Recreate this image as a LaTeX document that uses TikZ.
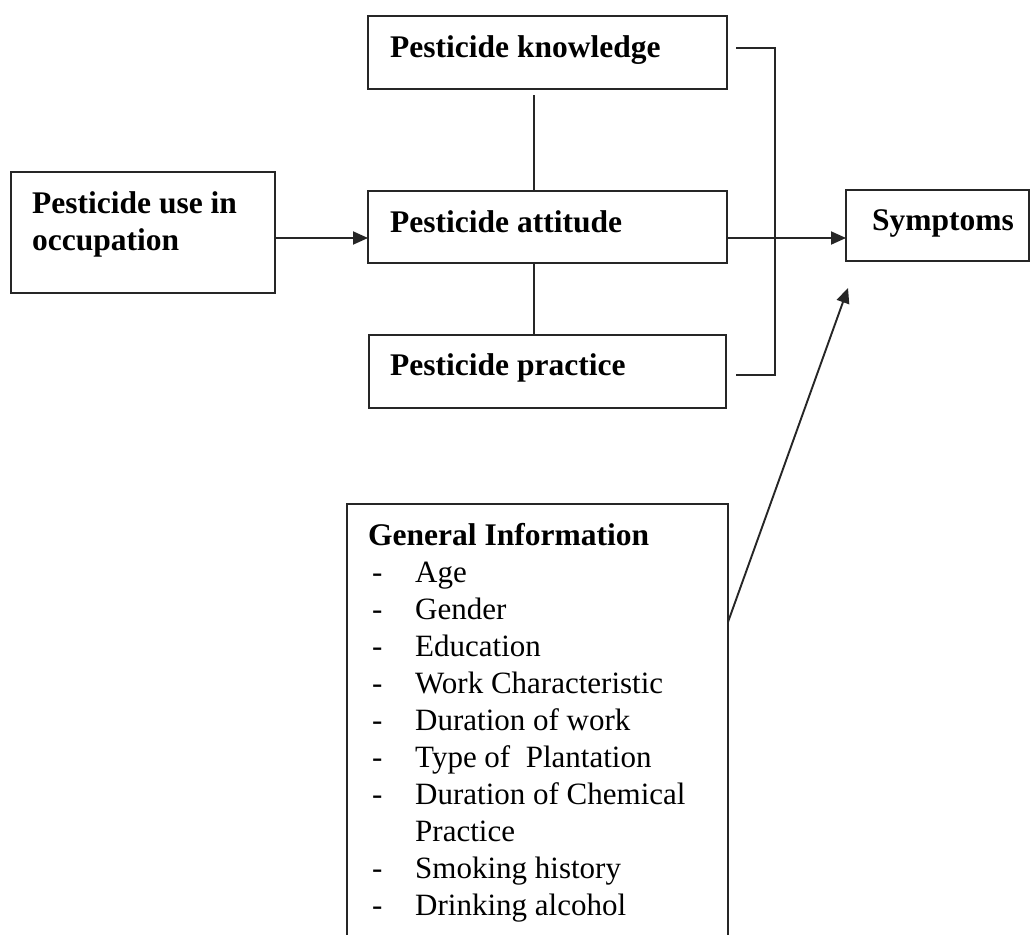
\documentclass[tikz,border=0pt]{standalone}
\usepackage{fontspec}
\setmainfont{Liberation Serif}
\usetikzlibrary{arrows.meta}
\begin{document}
\begin{tikzpicture}[x=1pt,y=-1pt,
  box/.style={draw=black!85, line width=2pt, inner sep=0pt, outer sep=0pt},
  bt/.style={font=\fontsize{31.5}{37}\selectfont\bfseries, inner sep=0pt, anchor=base west, text=black},
  rt/.style={font=\fontsize{31}{37}\selectfont, inner sep=0pt, anchor=base west, text=black},
  ln/.style={draw=black!85, line width=1.9pt},
  arr/.style={ln, -{Triangle[length=15pt,width=13pt]}}]
\useasboundingbox (0,0) rectangle (1032,934);
\clip (0,0) rectangle (1032,934);
\fill[white] (0,0) rectangle (1032,934);
% boxes
\node[box, minimum width=264pt, minimum height=121pt] (use) at (143,232.5) {};
\node[box, minimum width=359pt, minimum height=73pt] (know) at (547.5,52.5) {};
\node[box, minimum width=359pt, minimum height=72pt] (att) at (547.5,227) {};
\node[box, minimum width=357pt, minimum height=73pt] (prac) at (547.5,371.5) {};
\node[box, minimum width=183pt, minimum height=71pt] (sym) at (937.5,225.5) {};
\node[box, minimum width=381pt, minimum height=470pt] (gen) at (537.5,739) {};
% texts
\node[bt] (tuse1) at (32,213) {Pesticide use in};
\node[bt] (tuse2) at (32,250) {occupation};
\node[bt] (tknow) at (390,58) {Pesticide knowledge};
\node[bt] (tatt) at (390,232) {Pesticide attitude};
\node[bt] (tprac) at (390,375) {Pesticide practice};
\node[bt] (tsym) at (872,230) {Symptoms};
\node[bt] (tgen) at (368,545) {General Information};
\foreach \t [count=\i] in {Age,Gender,Education,Work Characteristic,Duration of work,Type of\ \ Plantation,Duration of Chemical}{
  \node[rt] (d\i) at (372,545+37*\i) {-};
  \node[rt] (it\i) at (415,545+37*\i) {\t};
}
\node[rt] (it8) at (415,841) {Practice};
\node[rt] (d9) at (372,878) {-};
\node[rt] (it9) at (415,878) {Smoking history};
\node[rt] (d10) at (372,915) {-};
\node[rt] (it10) at (415,915) {Drinking alcohol};
% connector coordinates
\coordinate (ya) at (0,238);
\coordinate (v1) at (534,95);
\coordinate (v2) at (534,263);
\coordinate (b1) at (736,48);
\coordinate (b2) at (775,48);
\coordinate (b3) at (775,375);
\coordinate (b4) at (736,375);
\coordinate (gs) at (728,622);
\coordinate (gt) at (848,288);
% connectors
\draw[arr] (use.east |- ya) -- (att.west |- ya);
\draw[arr] (att.east |- ya) -- (sym.west |- ya);
\draw[ln] (v1) -- (att.north -| v1);
\draw[ln] (v2) -- (prac.north -| v2);
\draw[ln] (b1) -- (b2) -- (b3) -- (b4);
\draw[arr] (gs) -- (gt);
\end{tikzpicture}
\end{document}
